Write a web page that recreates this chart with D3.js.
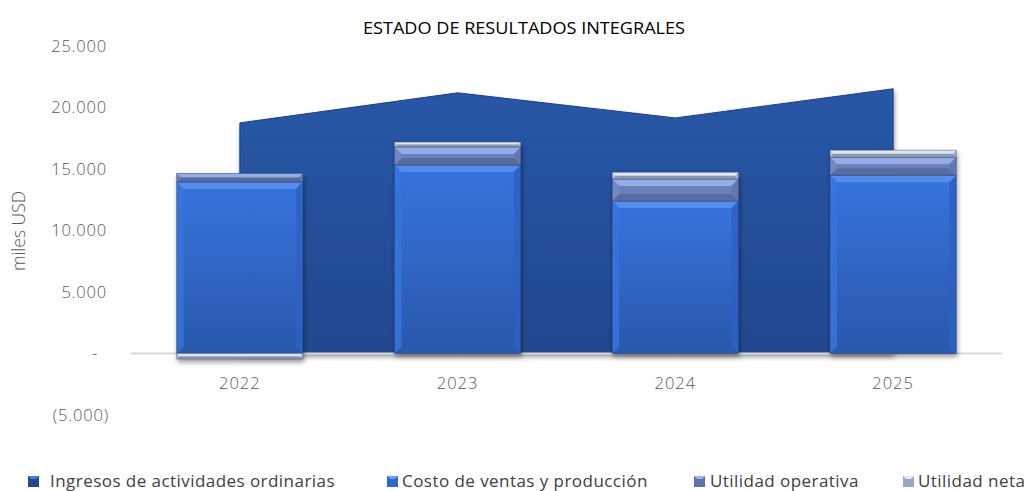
<!DOCTYPE html>
<html>
<head>
<meta charset="utf-8">
<script src="https://cdn.jsdelivr.net/npm/d3@7"></script>
<style>
  body { margin: 0; background: #fff; }
  text { font-family: "Open Sans", sans-serif; }
</style>
</head>
<body>
<script>
// Values (miles USD)
var data = [
    {year: "2022", ingresos: 18750, costo: 13940, operativa: 700,  neta: -450},
    {year: "2023", ingresos: 21190, costo: 15320, operativa: 1470, neta: 400},
    {year: "2024", ingresos: 19150, costo: 12390, operativa: 1790, neta: 550},
    {year: "2025", ingresos: 21520, costo: 14500, operativa: 1450, neta: 580}
];

var WIDTH = 1027;
var HEIGHT = 491;
var margin = {top: 46, right: 25, bottom: 76, left: 131};

// colours for each stacked series: face, top, left, right, bottom bevel
var styles = {
    costo:     {face: "url(#gCosto)", top: "#5a90f0", left: "#3774dc", right: "#2d62c2", bottom: "#2a5ab0"},
    operativa: {face: "#6b80b9",      top: "#9ab4f2", left: "#7489c2", right: "#6377ae", bottom: "#55699e"},
    neta:      {face: "#b4bfd8",      top: "#e6ecf8", left: "#bcc7de", right: "#a7b2cc", bottom: "#8590aa"}
};

var svg = d3.select("body").append("svg").attr("width", WIDTH).attr("height", HEIGHT);

var defs = svg.append("defs");
var g1 = defs.append("linearGradient").attr("id", "gArea").attr("x1", 0).attr("y1", 0).attr("x2", 0).attr("y2", 1);
g1.append("stop").attr("offset", "0%").attr("stop-color", "#2956a7");
g1.append("stop").attr("offset", "100%").attr("stop-color", "#22498f");
var g2 = defs.append("linearGradient").attr("id", "gCosto").attr("x1", 0).attr("y1", 0).attr("x2", 0).attr("y2", 1);
g2.append("stop").attr("offset", "0%").attr("stop-color", "#3674de");
g2.append("stop").attr("offset", "100%").attr("stop-color", "#2a58ac");
var f = defs.append("filter").attr("id", "shadow").attr("x", "-10%").attr("y", "-10%").attr("width", "130%").attr("height", "130%");
f.append("feDropShadow").attr("dx", 1).attr("dy", 3).attr("stdDeviation", 2.5)
    .attr("flood-color", "#000").attr("flood-opacity", 0.4);

var x = d3.scaleBand().domain(data.map(function(d) { return d.year; }))
    .range([margin.left, WIDTH - margin.right]);
var y = d3.scaleLinear().domain([-5000, 25000]).range([415, margin.top]);

// Title
svg.append("text").attr("x", 524).attr("y", 34).attr("text-anchor", "middle")
    .attr("font-size", "17px").attr("font-weight", 500).attr("fill", "#000")
    .attr("textLength", 322).attr("lengthAdjust", "spacingAndGlyphs")
    .text("ESTADO DE RESULTADOS INTEGRALES");

// Y axis labels
var fmt = function(v) {
    if (v == 0) return "-";
    var s = d3.format(",")(Math.abs(v)).replace(/,/g, ".");
    return v < 0 ? "(" + s + ")" : s;
};
var yAxis = d3.axisLeft(y).tickValues([-5000, 0, 5000, 10000, 15000, 20000, 25000])
    .tickFormat(fmt).tickSize(0).tickPadding(0);
var yg = svg.append("g").attr("transform", "translate(108,0)").call(yAxis);
yg.select(".domain").remove();
yg.selectAll("text").attr("font-size", "16.5px").attr("fill", "#595959")
    .attr("font-family", "Open Sans").attr("font-weight", 300).style("letter-spacing", "0.8px")
    .attr("dx", function(d) { return d == 0 ? -10 : (d < 0 ? 1 : -1); });

svg.append("text").attr("transform", "rotate(-90)").attr("x", -231).attr("y", 25)
    .attr("text-anchor", "middle").attr("font-size", "17.5px").attr("font-weight", 300)
    .attr("fill", "#595959").text("miles USD");

// Area: Ingresos
var area = d3.area()
    .x(function(d) { return x(d.year) + x.bandwidth() / 2; })
    .y0(y(0))
    .y1(function(d) { return y(d.ingresos); });
svg.append("path").datum(data).attr("d", area)
    .attr("fill", "url(#gArea)").attr("stroke", "#1d3f80").attr("stroke-width", 1)
    .attr("filter", "url(#shadow)");

// zero line
svg.append("line").attr("x1", margin.left).attr("x2", WIDTH - margin.right)
    .attr("y1", y(0)).attr("y2", y(0)).attr("stroke", "#d9d9d9").attr("stroke-width", 2);

// X axis labels
var xAxis = d3.axisBottom(x).tickSize(0).tickPadding(0);
var xg = svg.append("g").attr("transform", "translate(0,389)").call(xAxis);
xg.select(".domain").remove();
xg.selectAll("text").attr("font-size", "16.5px").attr("fill", "#595959").attr("font-weight", 300)
    .attr("font-family", "Open Sans").attr("dy", 0).style("letter-spacing", "1px");

// Stacked columns
var keys = ["costo", "operativa", "neta"];
var stack = d3.stack().keys(keys).offset(d3.stackOffsetDiverging);
var series = stack(data);
var barW = x.bandwidth() * 0.58;

function bevel(g, bx, by, w, h, st) {
    var b = Math.min(7, h / 2.2, w / 2);
    g.append("rect").attr("x", bx).attr("y", by).attr("width", w).attr("height", h).attr("fill", st.face);
    var polys = [
        [[bx, by], [bx + w, by], [bx + w - b, by + b], [bx + b, by + b], st.top],
        [[bx, by + h], [bx + w, by + h], [bx + w - b, by + h - b], [bx + b, by + h - b], st.bottom],
        [[bx, by], [bx + b, by + b], [bx + b, by + h - b], [bx, by + h], st.left],
        [[bx + w, by], [bx + w - b, by + b], [bx + w - b, by + h - b], [bx + w, by + h], st.right]
    ];
    polys.forEach(function(p) {
        g.append("polygon").attr("points", p.slice(0, 4).map(function(q) { return q.join(","); }).join(" "))
            .attr("fill", p[4]).attr("opacity", 0.85);
    });
    g.append("rect").attr("x", bx).attr("y", by).attr("width", w).attr("height", h)
        .attr("fill", "none").attr("stroke", "#1f2f55").attr("stroke-opacity", 0.45).attr("stroke-width", 0.8);
}

data.forEach(function(d, i) {
    var g = svg.append("g").attr("filter", "url(#shadow)");
    var bx = x(d.year) + (x.bandwidth() - barW) / 2;
    series.forEach(function(s) {
        var v = s[i];
        var top = y(Math.max(v[0], v[1]));
        var bot = y(Math.min(v[0], v[1]));
        if (bot - top > 0.5) bevel(g, bx, top, barW, bot - top, styles[s.key]);
    });
});

// Legend
var legend = [
    {name: "Ingresos de actividades ordinarias", mx: 28, tx: 50, face: "#22498f", top: "#4d80dc"},
    {name: "Costo de ventas y producción", mx: 387, tx: 402, face: "#2f68cc", top: "#6a9cf5"},
    {name: "Utilidad operativa", mx: 694, tx: 710, face: "#5e72a8", top: "#9cb6f4"},
    {name: "Utilidad neta", mx: 903, tx: 918, face: "#9aa6c2", top: "#e4ebf8"}
];
legend.forEach(function(l) {
    var lg = svg.append("g");
    lg.append("rect").attr("x", l.mx).attr("y", 476).attr("width", 11).attr("height", 11).attr("fill", l.face);
    lg.append("polygon").attr("points", [[l.mx, 476], [l.mx + 11, 476], [l.mx + 8, 479], [l.mx + 3, 479]].join(" "))
        .attr("fill", l.top);
    lg.append("text").attr("x", l.tx).attr("y", 487).attr("font-size", "17px")
        .style("letter-spacing", "0.45px").attr("fill", "#404040").text(l.name);
});
</script>
</body>
</html>
